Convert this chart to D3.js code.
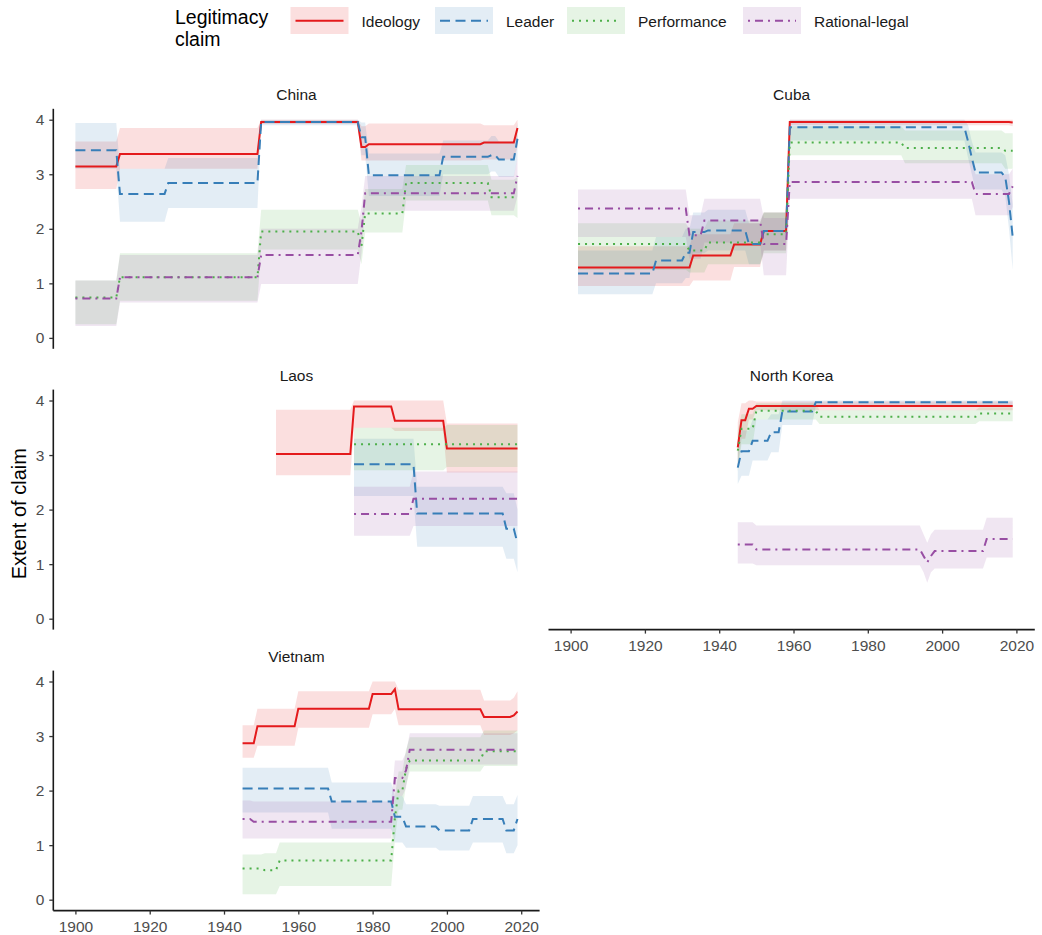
<!DOCTYPE html>
<html>
<head>
<meta charset="utf-8">
<script src="https://cdnjs.cloudflare.com/ajax/libs/d3/7.8.5/d3.min.js"></script>
<style>
  body {margin: 0; background: #fff}
  text {font-family: "Liberation Sans", Arial, Helvetica, sans-serif}
</style>
</head>
<body>
<div id="chart"></div>
<script>
// each row: [fromYear, toYear, estimate, lower, upper]
var claims = ["Ideology", "Leader", "Performance", "Rational-legal"]
var countries = ["China", "Cuba", "Laos", "North Korea", "Vietnam"]
var xTicks = [1900, 1920, 1940, 1960, 1980, 2000, 2020]
var yTicks = [0, 1, 2, 3, 4]

var chinaIdeology = [[1900,1911,3.14,2.73,3.6],[1912,1949,3.37,3.1,3.85],[1950,1976,3.96,3.92,4.0],[1977,1978,3.5,3.25,3.88],[1979,2009,3.55,3.25,3.93],[2010,2018,3.58,3.27,3.9],[2019,2019,3.85,3.5,4.0]]
var chinaLeader = [[1900,1911,3.44,3.1,3.94],[1912,1924,2.64,2.13,3.1],[1925,1949,2.84,2.38,3.3],[1950,1976,3.96,3.9,4.0],[1977,1978,3.68,3.35,3.95],[1979,1998,2.98,2.6,3.38],[1999,2011,3.32,3.0,3.62],[2012,2013,3.35,3.05,3.7],[2014,2018,3.27,2.95,3.6],[2019,2019,3.65,3.3,3.95]]
var chinaPerformance = [[1900,1911,0.74,0.25,1.05],[1912,1949,1.11,0.68,1.55],[1950,1976,1.95,1.62,2.35],[1977,1977,1.68,1.35,2.1],[1978,1988,2.28,1.93,2.73],[1989,2011,2.84,2.52,3.17],[2012,2018,2.58,2.25,2.9],[2019,2019,2.62,2.2,2.95]]
var chinaRational = [[1900,1911,0.72,0.22,1.05],[1912,1949,1.11,0.65,1.52],[1950,1976,1.52,0.99,2.0],[1977,1977,1.95,1.55,2.4],[1978,2018,2.65,2.33,2.97],[2019,2019,2.97,2.6,3.3]]

var cubaIdeology = [[1902,1932,1.29,0.95,1.68],[1933,1943,1.51,1.05,1.9],[1944,1951,1.71,1.3,2.1],[1952,1958,1.96,1.6,2.3],[1959,2018,3.96,3.9,4.0],[2019,2019,3.95,3.88,4.0]]
var cubaLeader = [[1902,1922,1.18,0.8,1.6],[1923,1930,1.42,1.0,1.85],[1931,1932,1.56,1.1,2.0],[1933,1936,1.94,1.55,2.3],[1937,1947,1.97,1.6,2.35],[1948,1951,1.72,1.35,2.1],[1952,1958,1.96,1.6,2.3],[1959,2006,3.86,3.62,4.0],[2007,2007,3.6,3.3,3.9],[2008,2008,3.3,3.0,3.6],[2009,2016,3.03,2.72,3.4],[2017,2017,2.95,2.6,3.35],[2018,2018,2.5,2.0,3.0],[2019,2019,1.85,1.25,2.45]]
var cubaPerformance = [[1902,1931,1.72,1.25,2.1],[1932,1936,1.6,1.2,2.0],[1937,1951,1.75,1.35,2.15],[1952,1958,1.9,1.55,2.3],[1959,1989,3.58,3.35,3.88],[1990,2016,3.48,3.2,3.8],[2017,2019,3.43,3.1,3.75]]
var cubaRational = [[1902,1931,2.37,1.85,2.72],[1932,1935,1.88,1.45,2.25],[1936,1951,2.15,1.75,2.55],[1952,1958,1.72,1.15,2.2],[1959,2008,2.86,2.55,3.26],[2009,2018,2.64,2.25,3.0],[2019,2019,2.78,2.4,3.1]]

var laosIdeology = [[1954,1974,3.02,2.63,3.83],[1975,1985,3.89,3.5,4.0],[1986,1999,3.63,3.44,4.0],[2000,2019,3.12,2.68,3.58]]
var laosLeader = [[1975,1991,2.83,2.25,3.3],[1992,2015,1.93,1.32,2.42],[2016,2018,1.65,1.1,2.3],[2019,2019,1.38,0.85,2.0]]
var laosPerformance = [[1975,1999,3.2,2.72,3.5],[2000,2019,3.2,2.78,3.55]]
var laosRational = [[1975,1990,1.92,1.52,2.42],[1991,2019,2.2,1.7,2.7]]

var nkIdeology = [[1945,1945,3.14,2.8,3.6],[1946,1947,3.64,3.3,3.95],[1948,1949,3.85,3.65,4.0],[1950,2019,3.9,3.82,3.98]]
var nkLeader = [[1945,1945,2.77,2.47,3.1],[1946,1948,3.07,2.62,3.45],[1949,1953,3.26,2.9,3.65],[1954,1956,3.42,3.05,3.75],[1957,1965,3.8,3.55,4.0],[1966,2019,3.97,3.9,4.0]]
var nkPerformance = [[1945,1945,3.08,2.7,3.45],[1946,1949,3.48,3.2,3.75],[1950,1966,3.81,3.65,3.95],[1967,2009,3.7,3.57,3.82],[2010,2019,3.76,3.62,3.87]]
var nkRational = [[1945,1949,1.36,1.01,1.77],[1950,1994,1.27,0.98,1.71],[1995,1995,1.15,0.85,1.55],[1996,1996,1.03,0.66,1.39],[1997,1997,1.15,0.85,1.55],[1998,2011,1.24,0.92,1.63],[2012,2019,1.46,1.12,1.85]]

var vietnamIdeology = [[1945,1948,2.87,2.6,3.2],[1949,1959,3.18,2.82,3.5],[1960,1979,3.5,3.15,3.82],[1980,1985,3.77,3.4,4.0],[1986,1986,3.86,3.5,4.0],[1987,2009,3.49,3.2,3.85],[2010,2017,3.35,3.02,3.65],[2018,2018,3.38,3.05,3.7],[2019,2019,3.45,3.1,3.82]]
var vietnamLeader = [[1945,1968,2.04,1.6,2.42],[1969,1985,1.8,1.3,2.15],[1986,1988,1.52,1.05,1.9],[1989,1997,1.34,0.95,1.75],[1998,2006,1.27,0.9,1.72],[2007,2015,1.48,1.05,1.9],[2016,2018,1.27,0.85,1.75],[2019,2019,1.48,1.0,1.92]]
var vietnamPerformance = [[1945,1950,0.57,0.1,0.83],[1951,1954,0.54,0.1,0.85],[1955,1985,0.72,0.25,1.05],[1986,1986,1.5,1.1,1.9],[1987,1988,2.0,1.65,2.35],[1989,1989,2.4,2.1,2.75],[1990,2009,2.55,2.35,2.98],[2010,2019,2.72,2.45,3.1]]
var vietnamRational = [[1945,1947,1.48,1.12,1.82],[1948,1985,1.43,1.12,1.8],[1986,1988,2.23,1.9,2.55],[1989,1989,2.37,2.05,2.7],[1990,2019,2.75,2.48,3.05]]

var series = {
  "China": [chinaIdeology, chinaLeader, chinaPerformance, chinaRational],
  "Cuba": [cubaIdeology, cubaLeader, cubaPerformance, cubaRational],
  "Laos": [laosIdeology, laosLeader, laosPerformance, laosRational],
  "North Korea": [nkIdeology, nkLeader, nkPerformance, nkRational],
  "Vietnam": [vietnamIdeology, vietnamLeader, vietnamPerformance, vietnamRational]
}

var colors = ["#E41A1C", "#377EB8", "#4DAF4A", "#984EA3"]
var dashes = [null, "10,5.5", "2,5", "2,5,8,5"]
var bandOpacity = 0.14

var width = 1042, height = 935
var colX = [53.3, 548.5], panelW = 486.3
var rowY = [108.8, 389.6, 670.6], panelH = 240
var spots = {"China": [0, 0], "Cuba": [0, 1], "Laos": [1, 0], "North Korea": [1, 1], "Vietnam": [2, 0]}
var withXAxis = ["North Korea", "Vietnam"]

var svg = d3.select("#chart").append("svg")
            .attr("width", width)
            .attr("height", height)

// held segments -> points (start and end year of each segment)
function toPoints(segs) {
  var pts = []
  segs.forEach(s => {
    pts.push({year: s[0], est: s[2], lo: s[3], hi: s[4]})
    if (s[1] !== s[0]) pts.push({year: s[1], est: s[2], lo: s[3], hi: s[4]})
  })
  return pts
}

var x = d3.scaleLinear().domain([1900 - 5.95, 2019 + 5.95]).range([0, panelW])
var y = d3.scaleLinear().domain([-0.2, 4.2]).range([panelH, 0])

var band = d3.area().x(d => x(d.year)).y0(d => y(d.lo)).y1(d => y(d.hi))
var line = d3.line().x(d => x(d.year)).y(d => y(d.est))

function styleAxis(a, d) {
  a.attr("font-family", null)
  a.select(".domain").attr("d", d).attr("stroke", "#1a1a1a").attr("stroke-width", 1.6)
  a.selectAll(".tick line").attr("stroke", "#333").attr("stroke-width", 1.3)
  a.selectAll(".tick text").attr("font-size", 15.5).attr("fill", "#4d4d4d")
}

countries.forEach(name => {
  var spot = spots[name]
  var g = svg.append("g").attr("transform", "translate(" + colX[spot[1]] + "," + rowY[spot[0]] + ")")
  var data = series[name].map(toPoints)

  g.append("text")
   .attr("x", panelW / 2).attr("y", -9)
   .attr("text-anchor", "middle")
   .attr("font-size", 15.5).attr("fill", "#1a1a1a")
   .text(name)

  data.forEach((pts, i) => {
    g.append("path").attr("d", band(pts))
     .attr("fill", colors[i]).attr("fill-opacity", bandOpacity)
  })
  data.forEach((pts, i) => {
    g.append("path").attr("d", line(pts))
     .attr("fill", "none").attr("stroke", colors[i])
     .attr("stroke-width", 2)
     .attr("stroke-dasharray", dashes[i])
  })

  if (spot[1] === 0) {
    var ya = g.append("g").call(d3.axisLeft(y).tickValues(yTicks).tickSize(4).tickPadding(5).tickFormat(d3.format("d")))
    styleAxis(ya, "M0," + panelH + "V0")
  }
  if (withXAxis.includes(name)) {
    var xa = g.append("g").attr("transform", "translate(0," + panelH + ")")
              .call(d3.axisBottom(x).tickValues(xTicks).tickSize(4).tickPadding(6).tickFormat(d3.format("d")))
    styleAxis(xa, "M0,0H" + panelW)
  }
})

svg.append("text")
   .attr("transform", "translate(26," + (rowY[0] + (rowY[2] + panelH - rowY[0]) / 2 + 4) + ") rotate(-90)")
   .attr("text-anchor", "middle")
   .attr("font-size", 20).attr("fill", "#000")
   .text("Extent of claim")

// legend
var legend = svg.append("g")
legend.append("text").attr("x", 175).attr("y", 24).attr("font-size", 19.5).text("Legitimacy")
legend.append("text").attr("x", 175).attr("y", 46).attr("font-size", 19.5).text("claim")
var keyX = [290.5, 435, 567, 743]
claims.forEach((c, i) => {
  var k = legend.append("g").attr("transform", "translate(" + keyX[i] + ",7)")
  k.append("rect").attr("width", 58).attr("height", 27)
   .attr("fill", colors[i]).attr("fill-opacity", bandOpacity)
  k.append("line").attr("x1", 5).attr("x2", 53).attr("y1", 13.7).attr("y2", 13.7)
   .attr("stroke", colors[i]).attr("stroke-width", 2)
   .attr("stroke-dasharray", dashes[i])
  k.append("text").attr("x", 71).attr("y", 20).attr("font-size", 15.5).attr("fill", "#1a1a1a").text(c)
})
</script>
</body>
</html>
